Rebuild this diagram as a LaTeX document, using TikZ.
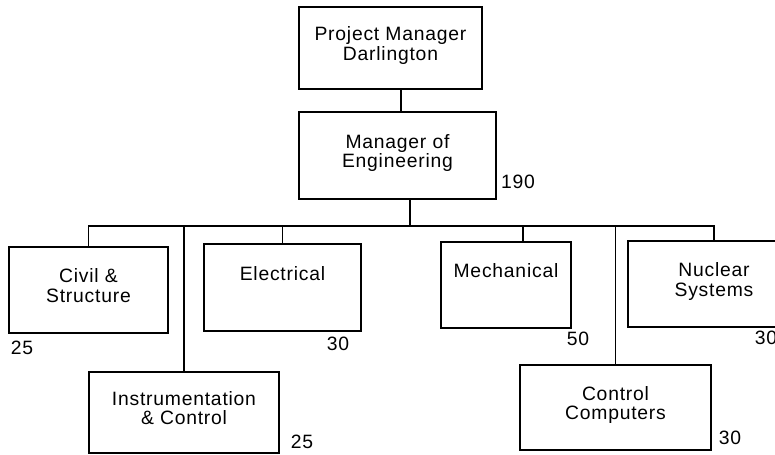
\documentclass[tikz,border=0pt]{standalone}
\usepackage{fontspec}
\setmainfont{Liberation Sans}[LetterSpace=4]
\begin{document}
\begin{tikzpicture}[x=0.02cm, y=-0.02cm, font=\fontsize{11}{11.2}\selectfont, line width=1pt,
  unitbox/.style={draw, align=center, inner sep=0pt, execute at end node={\rule[-5pt]{0pt}{0pt}}},
  count/.style={inner sep=0pt}]
\useasboundingbox (0,0) rectangle (775,455);
\begin{scope}
\clip (0,0) rectangle (775,455);
% top of the chart
\node[unitbox, minimum width=3.66cm, minimum height=1.64cm] (pm) at (390.5,48) {Project Manager\\Darlington};
\node[unitbox, minimum width=3.94cm, minimum height=1.74cm] (eng) at (397.5,155.5) {Manager of\\Engineering};
\node[count] (eng-n) at (518,182) {190};
% first row of sections
\node[unitbox, minimum width=3.18cm, minimum height=1.72cm] (civil) at (88.5,290) {Civil \&\\Structure};
\node[unitbox, minimum width=3.14cm, minimum height=1.74cm] (elec) at (282.5,287.5) {Electrical\\~};
\node[unitbox, minimum width=2.60cm, minimum height=1.72cm] (mech) at (506,285) {Mechanical\\~};
\node[unitbox, minimum width=3.44cm, minimum height=1.72cm] (nuc) at (714,284) {Nuclear\\Systems};
\node[count] (civil-n) at (22,348) {25};
\node[count] (elec-n) at (338,344) {30};
\node[count] (mech-n) at (578,339) {50};
\node[count] (nuc-n) at (766,338) {30};
% second row of sections
\node[unitbox, minimum width=3.80cm, minimum height=1.62cm] (instr) at (184,412.5) {Instrumentation\\\& Control};
\node[unitbox, minimum width=3.82cm, minimum height=1.70cm] (ctrl) at (615.5,407.5) {Control\\Computers};
\node[count] (instr-n) at (302,442) {25};
\node[count] (ctrl-n) at (730,438) {30};
% lines
\coordinate (pm-out) at ([xshift=0.21cm]pm.south);
\coordinate (bus) at (410,226);
\coordinate (mech-in) at ([xshift=0.34cm]mech.north);
\draw (pm-out) -- (pm-out |- eng.north);
\draw (eng.south -| bus) -- (bus);
\draw (civil.north) |- (bus) -| (nuc.north);
\draw (elec.north) -- (elec.north |- bus);
\draw (mech-in) -- (mech-in |- bus);
\draw (instr.north) -- (instr.north |- bus);
\draw (ctrl.north) -- (ctrl.north |- bus);
\end{scope}
\end{tikzpicture}
\end{document}
